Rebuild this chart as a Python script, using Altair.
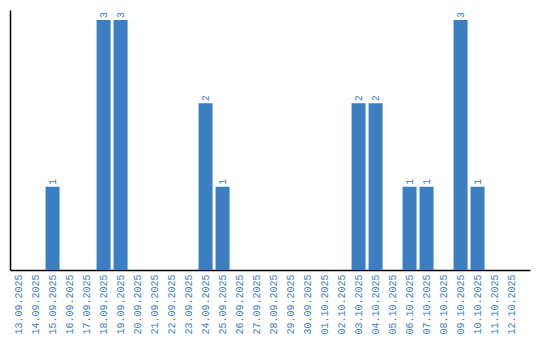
import altair as alt
import pandas as pd

dates = ["13.09.2025", "14.09.2025", "15.09.2025", "16.09.2025", "17.09.2025",
         "18.09.2025", "19.09.2025", "20.09.2025", "21.09.2025", "22.09.2025",
         "23.09.2025", "24.09.2025", "25.09.2025", "26.09.2025", "27.09.2025",
         "28.09.2025", "29.09.2025", "30.09.2025", "01.10.2025", "02.10.2025",
         "03.10.2025", "04.10.2025", "05.10.2025", "06.10.2025", "07.10.2025",
         "08.10.2025", "09.10.2025", "10.10.2025", "11.10.2025", "12.10.2025"]
counts = [0, 0, 1, 0, 0, 3, 3, 0, 0, 0,
          0, 2, 1, 0, 0, 0, 0, 0, 0, 0,
          2, 2, 0, 1, 1, 0, 3, 1, 0, 0]

df = pd.DataFrame({"date": dates, "count": counts})
df["label"] = [str(c) if c > 0 else "" for c in counts]

BLUE = "#3b7ec2"
FONT = "Liberation Mono"

xscale = alt.Scale(paddingInner=0.176, paddingOuter=0.382, align=0.12)
yscale = alt.Scale(domain=[0, 3.12], nice=False)

x = alt.X("date:N", sort=dates, scale=xscale, title=None)
y = alt.Y("count:Q", scale=yscale, title=None)

bars = alt.Chart(df).mark_bar(color=BLUE).encode(x=x, y=y)
text = alt.Chart(df).mark_text(angle=270, align="left", baseline="middle", dx=2,
                               color=BLUE, font=FONT, fontSize=10).encode(
    x=x, y=y, text="label:N")

chart = (bars + text).properties(
    width=520, height=260,
    autosize=alt.AutoSizeParams(type="none"),
    padding={"left": 10, "top": 10, "right": 10, "bottom": 70},
).configure_view(stroke=None).configure_axisX(
    labelAngle=-90, ticks=False, labelPadding=4, labelColor=BLUE,
    labelFont=FONT, labelFontSize=10, domainColor="black", domainWidth=1.5,
    grid=False,
).configure_axisY(
    labels=False, ticks=False, grid=False, domainColor="black", domainWidth=1.5,
)

chart.save("out.html", embed_options={"renderer": "svg", "actions": False})
